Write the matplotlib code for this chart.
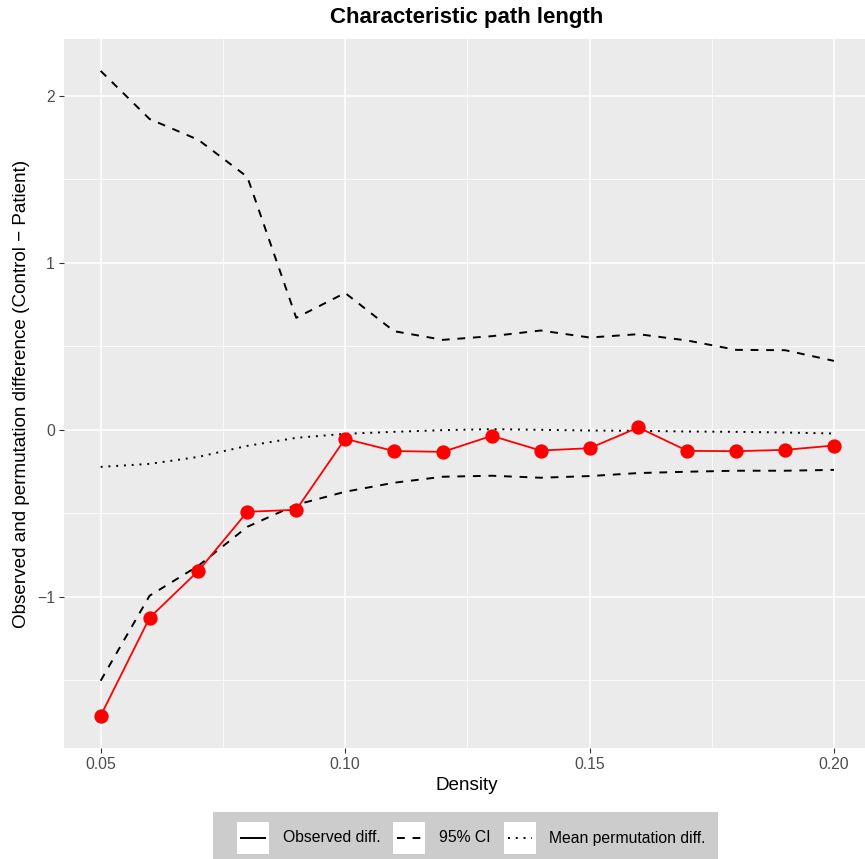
import numpy as np
import matplotlib
matplotlib.use("Agg")
import matplotlib.pyplot as plt
from matplotlib.patches import Rectangle
from matplotlib.lines import Line2D

plt.rcParams['font.family'] = ['Liberation Sans', 'DejaVu Sans']

density = [0.05, 0.06, 0.07, 0.08, 0.09, 0.10, 0.11, 0.12,
           0.13, 0.14, 0.15, 0.16, 0.17, 0.18, 0.19, 0.20]
observed = [-1.713, -1.126, -0.844, -0.491, -0.479, -0.054, -0.127, -0.132,
            -0.036, -0.124, -0.110, 0.014, -0.126, -0.128, -0.120, -0.094]
ci_upper = [2.150, 1.862, 1.737, 1.515, 0.671, 0.820, 0.591, 0.539,
            0.561, 0.595, 0.553, 0.573, 0.535, 0.479, 0.477, 0.413]
ci_lower = [-1.503, -0.994, -0.814, -0.581, -0.449, -0.371, -0.317, -0.281,
            -0.275, -0.287, -0.277, -0.259, -0.251, -0.245, -0.245, -0.240]
perm_mean = [-0.222, -0.204, -0.162, -0.096, -0.048, -0.024, -0.012, -0.002,
             0.004, 0.000, -0.004, -0.006, -0.010, -0.012, -0.016, -0.022]

x_ticks = [0.05, 0.10, 0.15, 0.20]
x_tick_labels = ["0.05", "0.10", "0.15", "0.20"]
y_ticks = [-1, 0, 1, 2]
y_tick_labels = ["\u22121", "0", "1", "2"]
legend_labels = ["Observed diff.", "95% CI", "Mean permutation diff."]

W, H = 865, 859
fig = plt.figure(figsize=(W / 100, H / 100), dpi=100)
fig.patch.set_facecolor('white')

# main panel (pixel box 64..865 x 38.7..748)
px0, px1, py0, py1 = 64, 865, 38.7, 748
ax = fig.add_axes([px0 / W, (H - py1) / H, (px1 - px0) / W, (py1 - py0) / H])
ax.set_facecolor('#EBEBEB')
for s in ax.spines.values():
    s.set_visible(False)

ax.set_xlim(0.0425, 0.05 + (865 - 100) / 4893.0)
ax.set_ylim(-1.906, 2.343)

# grid: minor then major
for xv in [0.075, 0.125, 0.175]:
    ax.axvline(xv, color='white', lw=0.55, zorder=0)
for yv in [-1.5, -0.5, 0.5, 1.5]:
    ax.axhline(yv, color='white', lw=0.55, zorder=0)
for xv in x_ticks:
    ax.axvline(xv, color='white', lw=1.1, zorder=0)
for yv in y_ticks:
    ax.axhline(yv, color='white', lw=1.1, zorder=0)

lw = 1.4
ax.plot(density, ci_upper, color='black', lw=lw, dashes=(4, 4), zorder=2)
ax.plot(density, ci_lower, color='black', lw=lw, dashes=(4, 4), zorder=2)
ax.plot(density, perm_mean, color='black', lw=lw, dashes=(1, 3),
        dash_capstyle='butt', zorder=2)
ax.plot(density, observed, color='#FF0000', lw=1.3, zorder=3)
ax.plot(density, observed, 'o', color='#FF0000', markersize=10.3,
        markeredgewidth=0, zorder=4)

ax.set_xticks(x_ticks)
ax.set_xticklabels(x_tick_labels)
ax.set_yticks(y_ticks)
ax.set_yticklabels(y_tick_labels)
ax.tick_params(axis='both', colors='#333333', length=3.5, width=0.8,
               labelsize=11.3, labelcolor='#4D4D4D', pad=3)

ax.set_xlabel("Density", fontsize=13.6, color='black', va='center')
ax.xaxis.set_label_coords(0.5 * (100 + 833 - 2 * px0) / (px1 - px0) + 0.0,
                          (py1 - 785) / (py1 - py0))
ax.xaxis.get_label().set_x((466.5 - px0) / (px1 - px0))
ax.set_ylabel("Observed and permutation difference (Control \u2212 Patient)",
              fontsize=13.6, color='black', va='center')
ax.yaxis.set_label_coords((22 - px0) / (px1 - px0), (py1 - 394) / (py1 - py0))
fig.text(466.5 / W, 1 - 17 / H, "Characteristic path length",
         ha='center', va='center', fontsize=16, fontweight='bold')

# legend at the bottom
lx0, lx1, ly0, ly1 = 213, 718, 812, 859
lax = fig.add_axes([lx0 / W, (H - ly1) / H, (lx1 - lx0) / W, (ly1 - ly0) / H])
lax.set_xlim(lx0, lx1)
lax.set_ylim(ly1, ly0)
lax.axis('off')
lax.add_patch(Rectangle((lx0, ly0), lx1 - lx0, ly1 - ly0, facecolor='#CCCCCC',
                        edgecolor='none', zorder=0))
keys_x = [237, 393, 504]
text_x = [283, 439, 549]
styles = [dict(linestyle='-'), dict(dashes=(4, 4)),
          dict(dashes=(1, 3), dash_capstyle='butt')]
ky0, ky1 = 822, 854
for kx, tx, st, lab in zip(keys_x, text_x, styles, legend_labels):
    lax.add_patch(Rectangle((kx, ky0), 32, ky1 - ky0, facecolor='white',
                            edgecolor='none', zorder=1))
    lax.add_line(Line2D([kx + 4, kx + 28], [(ky0 + ky1) / 2] * 2,
                        color='black', lw=lw, zorder=2, **st))
    lax.text(tx, (ky0 + ky1) / 2, lab, ha='left', va='center',
             fontsize=11.3, color='black')

fig.savefig("out.png", dpi=100)
